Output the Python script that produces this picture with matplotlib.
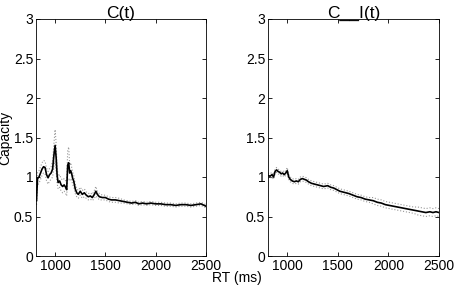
import matplotlib
matplotlib.use("Agg")
import matplotlib.pyplot as plt
import numpy as np

plt.rcParams['font.family'] = ['Liberation Sans', 'DejaVu Sans']

titles = ["C(t)", "C__I(t)"]
x_ticks = [1000, 1500, 2000, 2500]
y_ticks = [0, 0.5, 1, 1.5, 2, 2.5, 3]
y_ticklabels = ["0", "0.5", "1", "1.5", "2", "2.5", "3"]

x1 = [810, 815, 825, 840, 855, 870, 885, 900, 915, 930,
      945, 960, 975, 990, 1000, 1010, 1020, 1030, 1045, 1060,
      1075, 1090, 1105, 1115, 1125, 1135, 1145, 1155, 1165, 1175,
      1185, 1200, 1215, 1230, 1250, 1270, 1290, 1310, 1330, 1350,
      1370, 1390, 1405, 1420, 1440, 1470, 1500, 1530, 1560, 1600,
      1640, 1680, 1720, 1760, 1800, 1830, 1870, 1910, 1950, 2000,
      2050, 2100, 2150, 2200, 2250, 2300, 2350, 2400, 2450, 2500]
y1 = [0.72, 0.70, 0.98, 1.00, 1.05, 1.10, 1.13, 1.12, 1.03, 0.99,
      1.03, 1.05, 1.10, 1.30, 1.40, 1.25, 1.02, 0.93, 0.95, 0.90,
      0.88, 0.90, 0.87, 0.84, 1.15, 1.18, 1.05, 1.08, 1.04, 0.98,
      0.95, 0.85, 0.80, 0.78, 0.82, 0.78, 0.80, 0.77, 0.75, 0.76,
      0.74, 0.78, 0.82, 0.78, 0.75, 0.74, 0.74, 0.72, 0.71, 0.71,
      0.70, 0.69, 0.68, 0.67, 0.68, 0.66, 0.67, 0.66, 0.67, 0.66,
      0.66, 0.65, 0.65, 0.64, 0.65, 0.65, 0.64, 0.65, 0.66, 0.63]
ci1 = [0.05, 0.06, 0.08, 0.08, 0.08, 0.08, 0.08, 0.08, 0.08, 0.08,
       0.08, 0.08, 0.10, 0.15, 0.20, 0.18, 0.10, 0.08, 0.08, 0.08,
       0.08, 0.08, 0.08, 0.08, 0.18, 0.20, 0.10, 0.10, 0.08, 0.08,
       0.07, 0.06, 0.05, 0.05, 0.05, 0.05, 0.05, 0.04, 0.04, 0.04,
       0.04, 0.05, 0.06, 0.04, 0.04, 0.03, 0.03, 0.03, 0.03, 0.03,
       0.03, 0.02, 0.02, 0.02, 0.02, 0.02, 0.02, 0.02, 0.02, 0.02,
       0.02, 0.02, 0.02, 0.02, 0.02, 0.02, 0.02, 0.02, 0.02, 0.02]

x2 = [810, 830, 850, 865, 880, 895, 910, 925, 940, 955,
      970, 985, 1000, 1015, 1030, 1050, 1070, 1090, 1110, 1130,
      1150, 1170, 1190, 1210, 1240, 1270, 1300, 1330, 1360, 1400,
      1430, 1460, 1490, 1520, 1550, 1580, 1610, 1650, 1690, 1730,
      1770, 1810, 1850, 1890, 1930, 1970, 2010, 2050, 2090, 2130,
      2170, 2210, 2250, 2290, 2330, 2370, 2410, 2440, 2470, 2500]
y2 = [1.02, 1.01, 1.03, 1.00, 1.07, 1.09, 1.07, 1.06, 1.04, 1.05,
      1.03, 1.05, 1.08, 1.00, 0.97, 0.95, 0.94, 0.95, 0.94, 0.97,
      0.98, 0.97, 0.96, 0.94, 0.92, 0.91, 0.90, 0.89, 0.88, 0.89,
      0.87, 0.86, 0.84, 0.82, 0.81, 0.80, 0.79, 0.77, 0.75, 0.74,
      0.72, 0.71, 0.70, 0.68, 0.67, 0.65, 0.64, 0.63, 0.62, 0.61,
      0.60, 0.59, 0.58, 0.57, 0.56, 0.55, 0.56, 0.55, 0.56, 0.55]
ci2 = [0.03, 0.03, 0.03, 0.03, 0.03, 0.03, 0.03, 0.03, 0.03, 0.03,
       0.03, 0.03, 0.04, 0.03, 0.03, 0.03, 0.03, 0.03, 0.03, 0.03,
       0.03, 0.03, 0.03, 0.03, 0.03, 0.03, 0.03, 0.03, 0.03, 0.03,
       0.03, 0.03, 0.03, 0.03, 0.03, 0.03, 0.03, 0.03, 0.03, 0.03,
       0.03, 0.03, 0.04, 0.04, 0.04, 0.04, 0.04, 0.04, 0.04, 0.04,
       0.04, 0.04, 0.04, 0.05, 0.05, 0.05, 0.05, 0.05, 0.05, 0.05]

fig = plt.figure(figsize=(4.54, 2.88), dpi=100)
W, H = 454, 288
rects = [[36 / W, 32 / H, 170 / W, 237 / H], [268 / W, 32 / H, 171 / W, 237 / H]]
series = [(x1, y1, ci1), (x2, y2, ci2)]

for rect, (xs, ys, ci), title in zip(rects, series, titles):
    ax = fig.add_axes(rect)
    xs = np.array(xs); ys = np.array(ys); ci = np.array(ci)
    ax.plot(xs, ys + ci, color='#999999', linestyle=':', linewidth=0.8)
    ax.plot(xs, ys - ci, color='#999999', linestyle=':', linewidth=0.8)
    ax.plot(xs, ys, color='black', linewidth=1.2)
    ax.set_xlim(810, 2500)
    ax.set_ylim(0, 3)
    ax.set_xticks(x_ticks)
    ax.set_yticks(y_ticks)
    ax.set_yticklabels(y_ticklabels)
    ax.tick_params(direction='in', top=True, right=True, labelsize=10,
                   length=3, width=0.6, pad=2)
    for s in ax.spines.values():
        s.set_linewidth(0.6)
    ax.set_title(title, fontsize=12.5, pad=1)
    if title == titles[0]:
        ax.set_ylabel("Capacity", fontsize=10, labelpad=1)

fig.text(237 / W, 1 - 278 / H, "RT (ms)", ha='center', va='center', fontsize=10)
fig.savefig("out.png", dpi=100)
